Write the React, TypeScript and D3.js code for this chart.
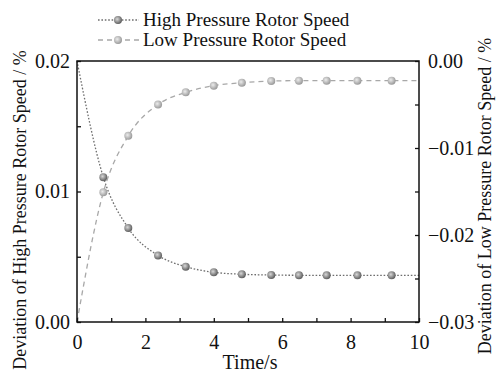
import React, { useRef, useEffect } from 'react'
import * as d3 from 'd3'

// time (s) of each sample; first and last samples carry no marker
const timeValues = [0, 0.77, 1.5, 2.37, 3.18, 4.0, 4.82, 5.68, 6.49, 7.3, 8.2, 9.2, 10]
const highPressure = [0.02, 0.0111, 0.0072, 0.0051, 0.00424, 0.00381, 0.00366, 0.0036, 0.00358, 0.00358, 0.00358, 0.00358, 0.00358]
const lowPressure = [-0.03, -0.0151, -0.0086, -0.005, -0.0036, -0.00284, -0.0025, -0.0023, -0.00226, -0.00226, -0.00226, -0.00226, -0.00226]
const markerShown = [false, true, true, true, true, true, true, true, true, true, true, true, false]

const xTicks = [0, 2, 4, 6, 8, 10]
const xMinorTicks = [1, 3, 5, 7, 9]
const leftTicks = [0, 0.01, 0.02]
const rightTicks = [0, -0.01, -0.02, -0.03]

const seriesNames = ['High Pressure Rotor Speed', 'Low Pressure Rotor Speed']

const W = 497
const H = 373
const FONT = 'Liberation Serif'

export default function App() {
  const svgRef = useRef<SVGSVGElement>(null)

  useEffect(() => {
    if (!svgRef.current) return
    const svg = d3.select(svgRef.current)
    svg.selectAll('*').remove()

    const margin = { top: 61, right: 78, bottom: 51, left: 77 }
    const iw = W - margin.left - margin.right
    const ih = H - margin.top - margin.bottom

    const defs = svg.append('defs')
    const grads = [
      { id: 'ballHigh', light: '#d8d8d8', dark: '#5e5e5e' },
      { id: 'ballLow', light: '#ececec', dark: '#9a9a9a' },
    ]
    grads.forEach(gr => {
      const rg = defs.append('radialGradient')
        .attr('id', gr.id)
        .attr('cx', '40%').attr('cy', '40%').attr('r', '60%')
      rg.append('stop').attr('offset', '0%').attr('stop-color', gr.light)
      rg.append('stop').attr('offset', '100%').attr('stop-color', gr.dark)
    })

    const g = svg.append('g')
      .attr('transform', `translate(${margin.left},${margin.top})`)

    const x = d3.scaleLinear().domain([0, 10]).range([0, iw])
    const yL = d3.scaleLinear().domain([0, 0.02]).range([ih, 0])
    const yR = d3.scaleLinear().domain([-0.03, 0]).range([ih, 0])

    const idx = d3.range(timeValues.length)

    // series
    const series = [
      { vals: highPressure, y: yL, stroke: '#6e6e6e', dash: '1.6,1.8', grad: 'ballHigh' },
      { vals: lowPressure, y: yR, stroke: '#a8a8a8', dash: '5,4', grad: 'ballLow' },
    ]
    series.forEach(s => {
      const line = d3.line<number>()
        .x(i => x(timeValues[i]))
        .y(i => s.y(s.vals[i]))
        .curve(d3.curveMonotoneX)
      g.append('path')
        .attr('d', line(idx))
        .attr('fill', 'none')
        .attr('stroke', s.stroke)
        .attr('stroke-width', 1.3)
        .attr('stroke-dasharray', s.dash)
      g.selectAll(null)
        .data(idx.filter(i => markerShown[i]))
        .enter().append('circle')
        .attr('cx', i => x(timeValues[i]))
        .attr('cy', i => s.y(s.vals[i]))
        .attr('r', 4)
        .attr('fill', `url(#${s.grad})`)
    })

    // frame
    g.append('rect')
      .attr('width', iw).attr('height', ih)
      .attr('fill', 'none').attr('stroke', '#111').attr('stroke-width', 1.5)

    // axes (ticks pointing inward)
    const styleAxis = (sel: any) => {
      sel.attr('font-family', FONT).attr('font-size', 20)
      sel.select('.domain').remove()
      sel.selectAll('line').attr('stroke', '#111').attr('stroke-width', 1.3)
      sel.selectAll('text').attr('fill', '#111')
    }

    const xAxis = g.append('g').attr('transform', `translate(0,${ih})`)
      .call(d3.axisBottom(x).tickValues(xTicks).tickSize(-4).tickPadding(10).tickFormat(d3.format('d')))
    styleAxis(xAxis)
    xAxis.selectAll('text').attr('dy', '0.85em')
    g.append('g').attr('transform', `translate(0,${ih})`)
      .call(d3.axisBottom(x).tickValues(xMinorTicks).tickSize(-4).tickFormat(() => ''))
      .call(styleAxis)

    const minorL = d3.range(0.005, 0.02, 0.01)
    const lAxis = g.append('g')
      .call(d3.axisLeft(yL).tickValues(leftTicks).tickSize(-4).tickPadding(7).tickFormat(d3.format('.2f')))
    styleAxis(lAxis)
    g.append('g')
      .call(d3.axisLeft(yL).tickValues(minorL).tickSize(-4).tickFormat(() => ''))
      .call(styleAxis)

    const minorR = [-0.005, -0.015, -0.025]
    const rAxis = g.append('g').attr('transform', `translate(${iw},0)`)
      .call(d3.axisRight(yR).tickValues(rightTicks).tickSize(-4).tickPadding(9)
        .tickFormat(d => d3.format('.2f')(Math.abs(+d) < 1e-9 ? 0 : +d).replace('-', '\u2212')))
    styleAxis(rAxis)
    g.append('g').attr('transform', `translate(${iw},0)`)
      .call(d3.axisRight(yR).tickValues(minorR).tickSize(-4).tickFormat(() => ''))
      .call(styleAxis)

    // axis titles
    svg.append('text')
      .attr('x', margin.left + iw / 2 + 2).attr('y', 369)
      .attr('text-anchor', 'middle')
      .attr('font-family', FONT).attr('font-size', 20).attr('fill', '#111')
      .text('Time/s')

    svg.append('text')
      .attr('transform', 'translate(26,210) rotate(-90)')
      .attr('text-anchor', 'middle')
      .attr('font-family', FONT).attr('font-size', 18).attr('fill', '#111')
      .text('Deviation of High Pressure Rotor Speed / %')

    svg.append('text')
      .attr('transform', 'translate(491,196) rotate(-90)')
      .attr('text-anchor', 'middle')
      .attr('font-family', FONT).attr('font-size', 18).attr('fill', '#111')
      .text('Deviation of Low Pressure Rotor Speed / %')

    // legend
    const legend = svg.append('g').attr('transform', 'translate(98,20)')
    const items = legend.selectAll(null)
      .data(seriesNames)
      .enter().append('g')
      .attr('transform', (d, i) => `translate(0,${i * 20})`)
    items.append('line')
      .attr('x1', 0).attr('x2', 41).attr('y1', 0).attr('y2', 0)
      .attr('stroke', (d, i) => series[i].stroke)
      .attr('stroke-width', 1.3)
      .attr('stroke-dasharray', (d, i) => series[i].dash)
    items.append('circle')
      .attr('cx', 20).attr('cy', 0).attr('r', 4)
      .attr('fill', (d, i) => `url(#${series[i].grad})`)
    items.append('text')
      .attr('x', 45).attr('y', 6)
      .attr('font-family', FONT).attr('font-size', 19).attr('fill', '#111')
      .text(d => d)
  }, [])

  return (
    <svg
      ref={svgRef}
      width={W}
      height={H}
      style={{ position: 'absolute', left: 0, top: 0, background: '#fff' }}
    />
  )
}
